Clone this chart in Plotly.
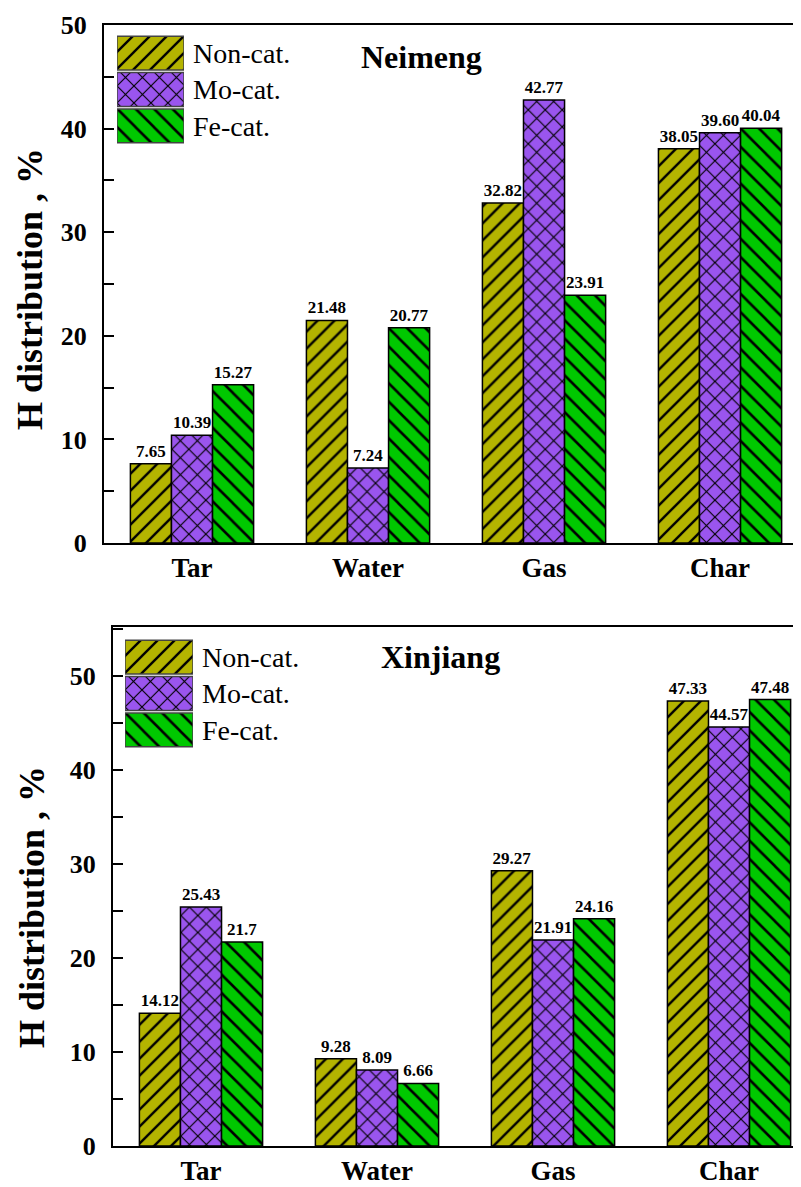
import plotly.graph_objects as go

categories = ["Tar", "Water", "Gas", "Char"]
series_names = ["Non-cat.", "Mo-cat.", "Fe-cat."]

neimeng_non = [7.65, 21.48, 32.82, 38.05]
neimeng_mo = [10.39, 7.24, 42.77, 39.60]
neimeng_fe = [15.27, 20.77, 23.91, 40.04]
neimeng_non_lbl = ["7.65", "21.48", "32.82", "38.05"]
neimeng_mo_lbl = ["10.39", "7.24", "42.77", "39.60"]
neimeng_fe_lbl = ["15.27", "20.77", "23.91", "40.04"]

xinjiang_non = [14.12, 9.28, 29.27, 47.33]
xinjiang_mo = [25.43, 8.09, 21.91, 44.57]
xinjiang_fe = [21.7, 6.66, 24.16, 47.48]
xinjiang_non_lbl = ["14.12", "9.28", "29.27", "47.33"]
xinjiang_mo_lbl = ["25.43", "8.09", "21.91", "44.57"]
xinjiang_fe_lbl = ["21.7", "6.66", "24.16", "47.48"]

y_ticks = [0, 10, 20, 30, 40, 50]

colors = ["#b4b400", "#9a55ee", "#00c800"]
shapes = ["/", "x", "\\"]
pat_sizes = [12, 12, 13]
pat_solid = [0.2, 0.18, 0.2]

# page body has an 8px margin; figure is sized to fill the rest of the window
OFF = 8
PW, PH = 801, 1187
W, H = PW - OFF, PH - OFF
FONT = "Liberation Serif"


def px_x(p):
    return (p - OFF) / W


def px_y(p):
    return 1 - (p - OFF) / H


def pattern(i):
    return dict(shape=shapes[i], fgcolor="black", bgcolor=colors[i], fillmode="replace",
                size=pat_sizes[i], solidity=pat_solid[i])


fig = go.Figure()

panels = [
    ("x", "y", [neimeng_non, neimeng_mo, neimeng_fe],
     [neimeng_non_lbl, neimeng_mo_lbl, neimeng_fe_lbl]),
    ("x2", "y2", [xinjiang_non, xinjiang_mo, xinjiang_fe],
     [xinjiang_non_lbl, xinjiang_mo_lbl, xinjiang_fe_lbl]),
]

for xa, ya, vals, lbls in panels:
    for i in range(3):
        fig.add_trace(go.Bar(
            x=categories, y=vals[i], name=series_names[i],
            xaxis=xa, yaxis=ya, showlegend=False,
            text=lbls[i], textposition="outside", cliponaxis=False,
            constraintext="none",
            outsidetextfont=dict(family=FONT, size=17, color="black", weight="bold"),
            marker=dict(color=colors[i], line=dict(color="black", width=1.5),
                        pattern=pattern(i)),
        ))

# legend swatches drawn on small dedicated axes
for xa, ya in [("x3", "y3"), ("x4", "y4")]:
    for i in range(3):
        fig.add_trace(go.Bar(
            y=[series_names[i]], x=[1], orientation="h", width=0.93, offset=-0.465,
            xaxis=xa, yaxis=ya, showlegend=False, hoverinfo="skip",
            marker=dict(color=colors[i], line=dict(color="#444", width=1.5),
                        pattern=pattern(i)),
        ))

yax_common = dict(
    showline=True, linewidth=2, linecolor="black", ticks="inside", ticklen=10,
    tickwidth=2, tickcolor="black", tickvals=y_ticks, showgrid=False, zeroline=False,
    tickfont=dict(family=FONT, size=26, color="black", weight="bold"),
    minor=dict(dtick=5, ticks="inside", ticklen=10, tickwidth=2, tickcolor="black"),
    ticklabelstandoff=10, automargin=False,
)
xax_common = dict(
    showline=True, linewidth=2, linecolor="black", mirror=True, ticks="",
    showgrid=False, zeroline=False,
    tickfont=dict(family=FONT, size=27, color="black", weight="bold"),
    ticklabelstandoff=0, automargin=False,
)

leg_x = dict(range=[0, 1], visible=False, fixedrange=True, automargin=False)
leg_y = dict(categoryorder="array", categoryarray=series_names,
             range=[2.5, -0.5], showline=False, ticks="", showgrid=False, zeroline=False,
             side="right", tickfont=dict(family=FONT, size=28, color="black"),
             ticklabelstandoff=8, automargin=False)


def ann(text, x, y, size, angle=0):
    return dict(text=text, x=px_x(x), y=px_y(y), xref="paper", yref="paper",
                xanchor="center", yanchor="middle", showarrow=False, textangle=angle,
                font=dict(family=FONT, size=size, color="black"))


fig.update_layout(
    template="none",
    width=W, height=H, margin=dict(l=0, r=0, t=0, b=0, autoexpand=False),
    paper_bgcolor="white", plot_bgcolor="white",
    barmode="group", bargap=0.3, bargroupgap=0,
    xaxis=dict(domain=[px_x(104), 1], range=[-0.5, 3.46], anchor="y", **xax_common),
    yaxis=dict(domain=[px_y(543), px_y(25)], range=[0, 50], anchor="x", **yax_common),
    xaxis2=dict(domain=[px_x(113), 1], range=[-0.5, 3.409], anchor="y2", **xax_common),
    yaxis2=dict(domain=[px_y(1146), px_y(627)], range=[0, 55.2], anchor="x2", **yax_common),
    xaxis3=dict(domain=[px_x(117), px_x(184)], anchor="y3", **leg_x),
    yaxis3=dict(domain=[px_y(144), px_y(35)], anchor="x3", **leg_y),
    xaxis4=dict(domain=[px_x(125), px_x(193)], anchor="y4", **leg_x),
    yaxis4=dict(domain=[px_y(748), px_y(639)], anchor="x4", **leg_y),
    annotations=[
        ann("<b>Neimeng</b>", 421, 57, 32),
        ann("<b>Xinjiang</b>", 440, 657, 32),
        ann("<b>H distribution , %</b>", 30, 289, 36, -90),
        ann("<b>H distribution , %</b>", 32, 907, 36, -90),
    ],
)

fig.write_html("out.html")
